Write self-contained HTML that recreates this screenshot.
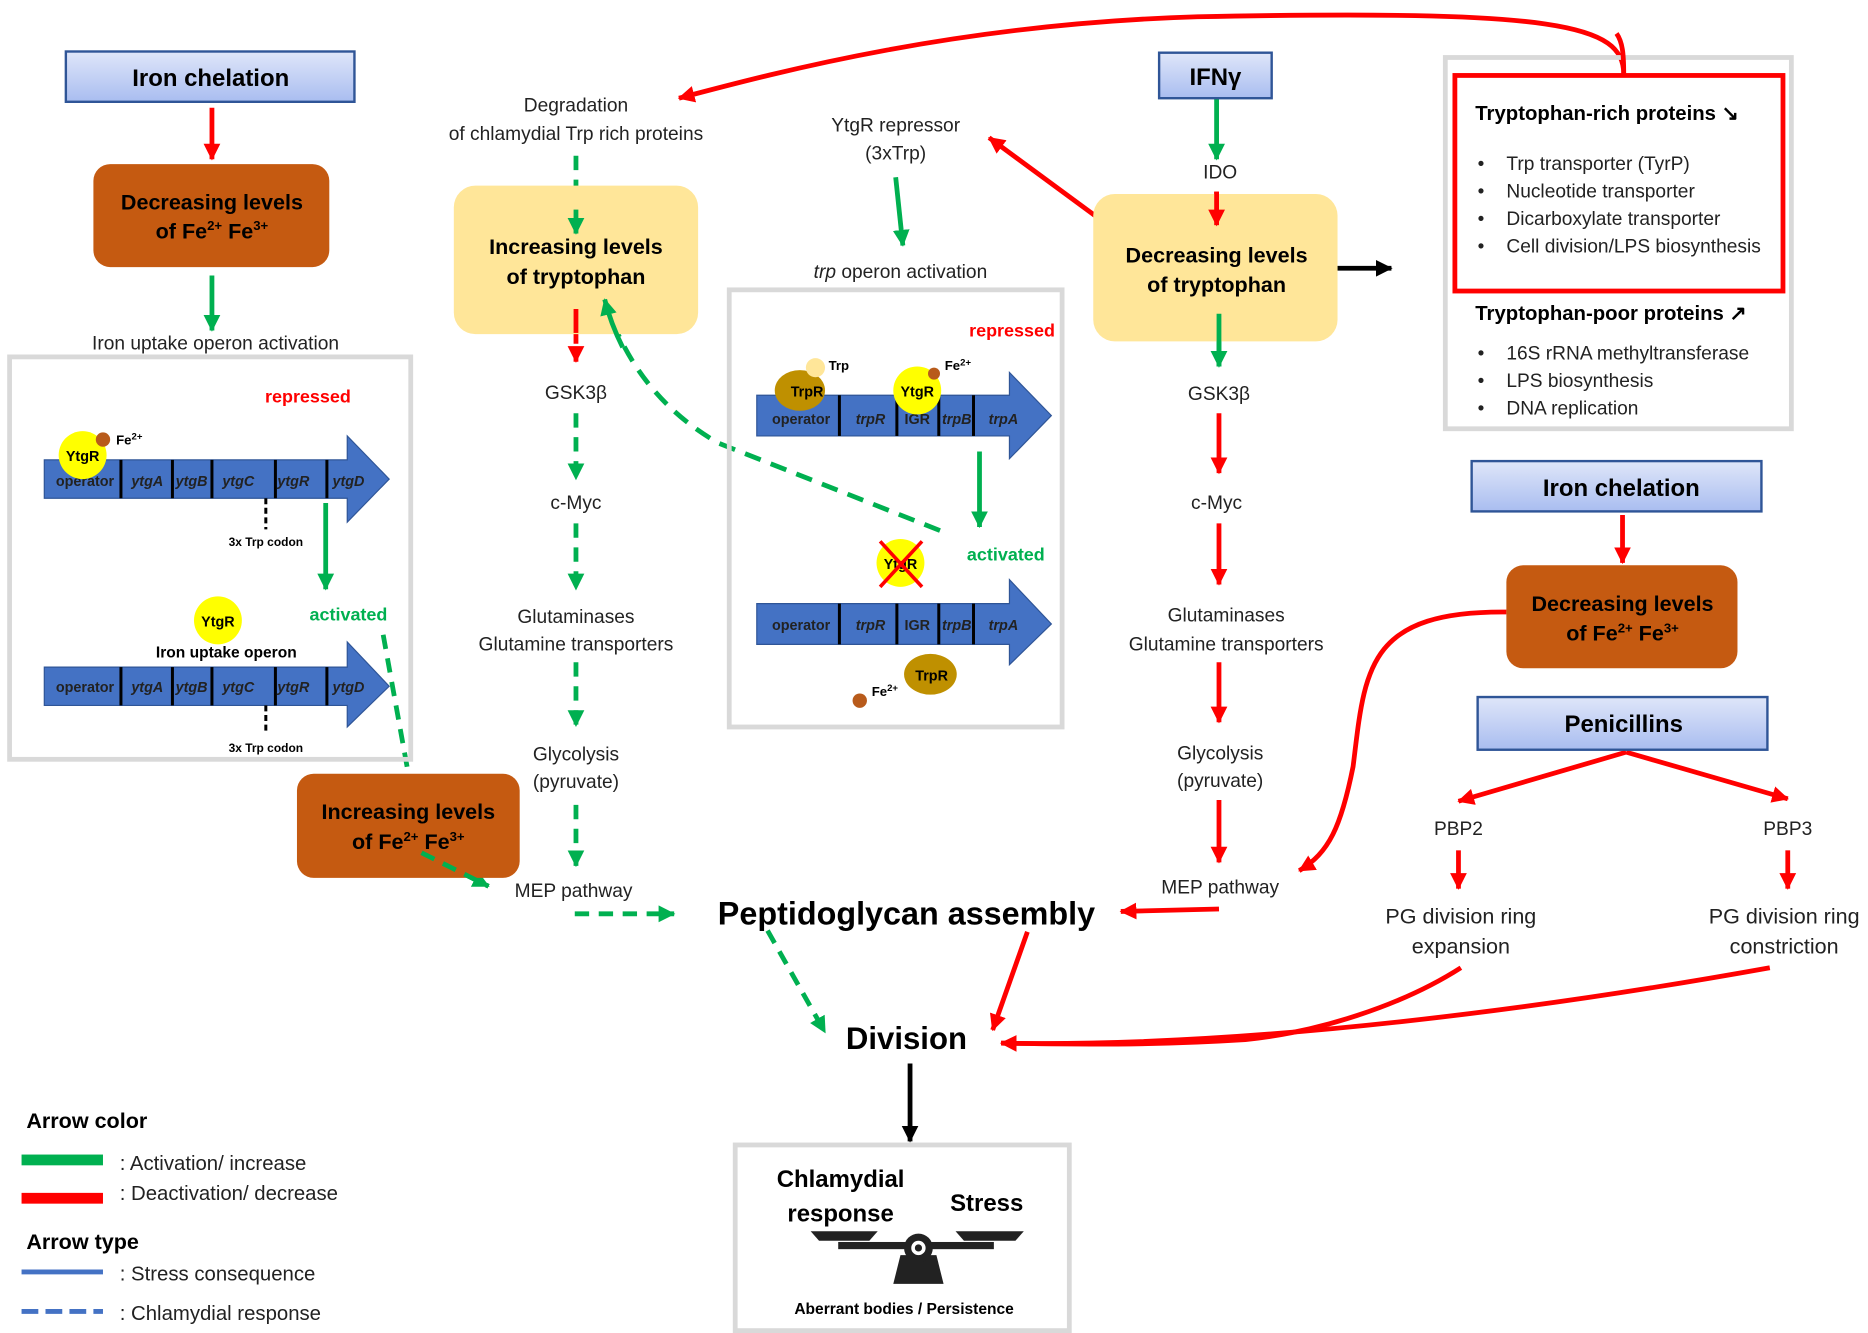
<!DOCTYPE html>
<html><head><meta charset="utf-8"><style>
html,body{margin:0;padding:0;background:#fff}
svg{display:block}
text{font-family:"Liberation Sans",sans-serif;fill:#222}
.b{font-weight:bold;fill:#000}
</style></head><body>
<svg width="1868" height="1333" viewBox="0 0 1560 1113" preserveAspectRatio="none" xmlns="http://www.w3.org/2000/svg">
<defs>
<linearGradient id="bl" x1="0" y1="0" x2="0" y2="1"><stop offset="0" stop-color="#dfe6f9"/><stop offset="1" stop-color="#a9bdf0"/></linearGradient>
<marker id="g" markerUnits="userSpaceOnUse" markerWidth="16" markerHeight="16" refX="13" refY="8" orient="auto"><path d="M0,1 L14,8 L0,15 z" fill="#00B050"/></marker>
<marker id="r" markerUnits="userSpaceOnUse" markerWidth="16" markerHeight="16" refX="13" refY="8" orient="auto"><path d="M0,1 L14,8 L0,15 z" fill="#FF0000"/></marker>
<marker id="k" markerUnits="userSpaceOnUse" markerWidth="16" markerHeight="16" refX="13" refY="8" orient="auto"><path d="M0,1 L14,8 L0,15 z" fill="#000"/></marker>
</defs>
<g stroke-width="4" fill="none">
<!-- left -->
<line x1="177" y1="90" x2="177" y2="133" stroke="#FF0000" marker-end="url(#r)"/>
<line x1="177" y1="230" x2="177" y2="276" stroke="#00B050" marker-end="url(#g)"/>
<line x1="272" y1="420" x2="272" y2="492" stroke="#00B050" marker-end="url(#g)"/>
<line x1="320" y1="530" x2="345" y2="668" stroke="#00B050" stroke-dasharray="12,8" marker-end="url(#g)"/>
<!-- center -->
<line x1="481" y1="130" x2="481" y2="195" stroke="#00B050" stroke-dasharray="12,8" marker-end="url(#g)"/>
<line x1="481" y1="255" x2="481" y2="302" stroke="#FF0000" stroke-dasharray="12,8" marker-end="url(#r)"/>
<line x1="481" y1="345" x2="481" y2="400" stroke="#00B050" stroke-dasharray="12,8" marker-end="url(#g)"/>
<line x1="481" y1="437" x2="481" y2="492" stroke="#00B050" stroke-dasharray="12,8" marker-end="url(#g)"/>
<line x1="481" y1="553" x2="481" y2="606" stroke="#00B050" stroke-dasharray="12,8" marker-end="url(#g)"/>
<line x1="481" y1="672" x2="481" y2="723" stroke="#00B050" stroke-dasharray="12,8" marker-end="url(#g)"/>
<line x1="480" y1="763" x2="563" y2="763" stroke="#00B050" stroke-dasharray="12,8" marker-end="url(#g)"/>
<path d="M785,443 L600,370 Q530,330 505,250" stroke="#00B050" stroke-dasharray="14,9" marker-end="url(#g)"/>
<line x1="748" y1="148" x2="754" y2="205" stroke="#00B050" marker-end="url(#g)"/>
<line x1="818" y1="377" x2="818" y2="440" stroke="#00B050" marker-end="url(#g)"/>
<!-- right middle -->
<line x1="1016" y1="82" x2="1016" y2="133" stroke="#00B050" marker-end="url(#g)"/>
<line x1="1016" y1="160" x2="1016" y2="188" stroke="#FF0000" marker-end="url(#r)"/>
<line x1="928" y1="190" x2="826" y2="115" stroke="#FF0000" marker-end="url(#r)"/>
<line x1="1117" y1="224" x2="1162" y2="224" stroke="#000" marker-end="url(#k)"/>
<line x1="1018" y1="262" x2="1018" y2="306" stroke="#00B050" marker-end="url(#g)"/>
<line x1="1018" y1="345" x2="1018" y2="395" stroke="#FF0000" marker-end="url(#r)"/>
<line x1="1018" y1="437" x2="1018" y2="488" stroke="#FF0000" marker-end="url(#r)"/>
<line x1="1018" y1="553" x2="1018" y2="603" stroke="#FF0000" marker-end="url(#r)"/>
<line x1="1018" y1="668" x2="1018" y2="720" stroke="#FF0000" marker-end="url(#r)"/>
<line x1="1018" y1="759" x2="936" y2="761" stroke="#FF0000" marker-end="url(#r)"/>
<line x1="641" y1="777" x2="689" y2="862" stroke="#00B050" stroke-dasharray="12,8" marker-end="url(#g)"/>
<line x1="352" y1="712" x2="408" y2="740" stroke="#00B050" stroke-dasharray="12,8" marker-end="url(#g)"/>
<line x1="858" y1="778" x2="829" y2="860" stroke="#FF0000" marker-end="url(#r)"/>
<line x1="760" y1="888" x2="760" y2="953" stroke="#000" marker-end="url(#k)"/>
<path d="M1356,62 C1356,20 1300,8 1000,14 C800,20 650,60 567,82" stroke="#FF0000" marker-end="url(#r)"/>
<!-- right -->
<line x1="1355" y1="430" x2="1355" y2="470" stroke="#FF0000" marker-end="url(#r)"/>
<path d="M1258,511 C1140,510 1140,560 1130,640 C1120,690 1110,712 1085,727" stroke="#FF0000" marker-end="url(#r)"/>
<line x1="1358" y1="628" x2="1218" y2="669" stroke="#FF0000" marker-end="url(#r)"/>
<line x1="1358" y1="628" x2="1493" y2="667" stroke="#FF0000" marker-end="url(#r)"/>
<line x1="1218" y1="710" x2="1218" y2="742" stroke="#FF0000" marker-end="url(#r)"/>
<line x1="1493" y1="710" x2="1493" y2="742" stroke="#FF0000" marker-end="url(#r)"/>
<path d="M1220,808 C1170,840 1100,862 1040,868 C960,873 900,872 836,871" stroke="#FF0000" marker-end="url(#r)"/>
<path d="M1478,808 C1300,840 1050,875 836,871" stroke="#FF0000"/>
</g>

<!-- boxes -->
<rect x="55" y="43" width="241" height="42" fill="url(#bl)" stroke="#2F5597" stroke-width="2"/>
<text x="176" y="72" text-anchor="middle" class="b" font-size="20">Iron chelation</text>
<rect x="78" y="137" width="197" height="86" rx="14" fill="#C55A11"/>
<text x="177" y="175" text-anchor="middle" class="b" font-size="18">Decreasing levels</text>
<text x="177" y="199" text-anchor="middle" class="b" font-size="18">of  Fe<tspan font-size="11" dy="-7">2+</tspan><tspan dy="7"> Fe</tspan><tspan font-size="11" dy="-7">3+</tspan></text>
<text x="180" y="292" text-anchor="middle" font-size="16">Iron uptake operon activation</text>
<rect x="8" y="298" width="335" height="336" fill="none" stroke="#d9d9d9" stroke-width="4"/>
<text x="293" y="336" text-anchor="end" class="b" font-size="15" style="fill:#FF0000">repressed</text>
<!-- operon 1 -->
<path d="M37,384 H290 V364 L325,400 L290,436 V416 H37 Z" fill="#4472C4" stroke="#2F5597"/>
<g stroke="#000" stroke-width="2.5"><line x1="101" y1="384" x2="101" y2="416"/><line x1="144" y1="384" x2="144" y2="416"/><line x1="177" y1="384" x2="177" y2="416"/><line x1="230" y1="384" x2="230" y2="416"/><line x1="273" y1="384" x2="273" y2="416"/>
<line x1="222" y1="416" x2="222" y2="442" stroke-dasharray="5,3"/></g>
<g font-size="12" class="b"><text x="71" y="406" text-anchor="middle">operator</text><text x="123" y="406" text-anchor="middle" font-style="italic">ytgA</text><text x="160" y="406" text-anchor="middle" font-style="italic">ytgB</text><text x="199" y="406" text-anchor="middle" font-style="italic">ytgC</text><text x="245" y="406" text-anchor="middle" font-style="italic">ytgR</text><text x="291" y="406" text-anchor="middle" font-style="italic">ytgD</text></g>
<circle cx="69" cy="380" r="20" fill="#FFFF00"/><text x="69" y="385" text-anchor="middle" class="b" font-size="12">YtgR</text>
<circle cx="86" cy="367" r="6" fill="#B85B1B"/><text x="97" y="371" class="b" font-size="11">Fe<tspan font-size="8" dy="-4">2+</tspan></text>
<text x="222" y="456" text-anchor="middle" class="b" font-size="10">3x Trp codon</text>
<text x="291" y="518" text-anchor="middle" class="b" font-size="15" style="fill:#00B050">activated</text>
<circle cx="182" cy="518" r="20" fill="#FFFF00"/><text x="182" y="523" text-anchor="middle" class="b" font-size="12">YtgR</text>
<text x="189" y="549" text-anchor="middle" class="b" font-size="13">Iron uptake operon</text>
<path d="M37,557 H290 V536 L325,573 L290,607 V589 H37 Z" fill="#4472C4" stroke="#2F5597"/>
<g stroke="#000" stroke-width="2.5"><line x1="101" y1="557" x2="101" y2="589"/><line x1="144" y1="557" x2="144" y2="589"/><line x1="177" y1="557" x2="177" y2="589"/><line x1="230" y1="557" x2="230" y2="589"/><line x1="273" y1="557" x2="273" y2="589"/>
<line x1="222" y1="589" x2="222" y2="612" stroke-dasharray="5,3"/></g>
<g font-size="12" class="b"><text x="71" y="578" text-anchor="middle">operator</text><text x="123" y="578" text-anchor="middle" font-style="italic">ytgA</text><text x="160" y="578" text-anchor="middle" font-style="italic">ytgB</text><text x="199" y="578" text-anchor="middle" font-style="italic">ytgC</text><text x="245" y="578" text-anchor="middle" font-style="italic">ytgR</text><text x="291" y="578" text-anchor="middle" font-style="italic">ytgD</text></g>
<text x="222" y="628" text-anchor="middle" class="b" font-size="10">3x Trp codon</text>
<rect x="248" y="646" width="186" height="87" rx="14" fill="#C55A11"/>
<text x="341" y="684" text-anchor="middle" class="b" font-size="18">Increasing levels</text>
<text x="341" y="709" text-anchor="middle" class="b" font-size="18">of  Fe<tspan font-size="11" dy="-7">2+</tspan><tspan dy="7"> Fe</tspan><tspan font-size="11" dy="-7">3+</tspan></text>
<line x1="352" y1="712" x2="408" y2="740" stroke="#00B050" stroke-width="4" stroke-dasharray="12,8"/>

<!-- center -->
<text x="481" y="93" text-anchor="middle" font-size="16">Degradation</text>
<text x="481" y="117" text-anchor="middle" font-size="16">of chlamydial Trp rich proteins</text>
<rect x="379" y="155" width="204" height="124" rx="18" fill="#FFE699"/>
<text x="481" y="212" text-anchor="middle" class="b" font-size="18">Increasing levels</text>
<text x="481" y="237" text-anchor="middle" class="b" font-size="18">of tryptophan</text>
<line x1="481" y1="175" x2="481" y2="195" stroke="#00B050" stroke-width="4" marker-end="url(#g)"/>
<line x1="481" y1="258" x2="481" y2="278" stroke="#FF0000" stroke-width="4"/>
<path d="M520,290 Q510,270 505,250" stroke="#00B050" stroke-width="4" fill="none" marker-end="url(#g)"/>
<text x="481" y="333" text-anchor="middle" font-size="16">GSK3β</text>
<text x="481" y="425" text-anchor="middle" font-size="16">c-Myc</text>
<text x="481" y="520" text-anchor="middle" font-size="16">Glutaminases</text>
<text x="481" y="543" text-anchor="middle" font-size="16">Glutamine transporters</text>
<text x="481" y="635" text-anchor="middle" font-size="16">Glycolysis</text>
<text x="481" y="658" text-anchor="middle" font-size="16">(pyruvate)</text>
<text x="479" y="749" text-anchor="middle" font-size="16">MEP pathway</text>

<text x="748" y="110" text-anchor="middle" font-size="16">YtgR repressor</text>
<text x="748" y="133" text-anchor="middle" font-size="16">(3xTrp)</text>
<text x="752" y="232" text-anchor="middle" font-size="16"><tspan font-style="italic">trp</tspan> operon activation</text>
<rect x="609" y="242" width="278" height="365" fill="none" stroke="#d9d9d9" stroke-width="4"/>
<text x="881" y="281" text-anchor="end" class="b" font-size="15" style="fill:#FF0000">repressed</text>
<path d="M632,330 H843 V311 L878,347 L843,383 V364 H632 Z" fill="#4472C4" stroke="#2F5597"/>
<g stroke="#000" stroke-width="2.5"><line x1="701" y1="330" x2="701" y2="364"/><line x1="749" y1="330" x2="749" y2="364"/><line x1="784" y1="330" x2="784" y2="364"/><line x1="813" y1="330" x2="813" y2="364"/></g>
<g font-size="12" class="b"><text x="669" y="354" text-anchor="middle">operator</text><text x="727" y="354" text-anchor="middle" font-style="italic">trpR</text><text x="766" y="354" text-anchor="middle">IGR</text><text x="799" y="354" text-anchor="middle" font-style="italic">trpB</text><text x="838" y="354" text-anchor="middle" font-style="italic">trpA</text></g>
<ellipse cx="668" cy="326" rx="21" ry="17" fill="#BF9000"/><text x="674" y="331" text-anchor="middle" class="b" font-size="12">TrpR</text>
<circle cx="681" cy="307" r="8" fill="#FFE699"/><text x="692" y="309" class="b" font-size="11">Trp</text>
<circle cx="766" cy="326" r="20" fill="#FFFF00"/><text x="766" y="331" text-anchor="middle" class="b" font-size="12">YtgR</text>
<circle cx="780" cy="312" r="5" fill="#B85B1B"/><text x="789" y="309" class="b" font-size="11">Fe<tspan font-size="8" dy="-4">2+</tspan></text>
<text x="840" y="468" text-anchor="middle" class="b" font-size="15" style="fill:#00B050">activated</text>
<circle cx="752" cy="470" r="20" fill="#FFFF00"/><text x="752" y="475" text-anchor="middle" class="b" font-size="12">YtgR</text>
<g stroke="#FF0000" stroke-width="3"><line x1="735" y1="452" x2="770" y2="490"/><line x1="770" y1="452" x2="735" y2="490"/></g>
<path d="M632,504 H843 V484 L878,521 L843,555 V538 H632 Z" fill="#4472C4" stroke="#2F5597"/>
<g stroke="#000" stroke-width="2.5"><line x1="701" y1="504" x2="701" y2="538"/><line x1="749" y1="504" x2="749" y2="538"/><line x1="784" y1="504" x2="784" y2="538"/><line x1="813" y1="504" x2="813" y2="538"/></g>
<g font-size="12" class="b"><text x="669" y="526" text-anchor="middle">operator</text><text x="727" y="526" text-anchor="middle" font-style="italic">trpR</text><text x="766" y="526" text-anchor="middle">IGR</text><text x="799" y="526" text-anchor="middle" font-style="italic">trpB</text><text x="838" y="526" text-anchor="middle" font-style="italic">trpA</text></g>
<ellipse cx="777" cy="563" rx="22" ry="17" fill="#BF9000"/><text x="778" y="568" text-anchor="middle" class="b" font-size="12">TrpR</text>
<circle cx="718" cy="585" r="6" fill="#B85B1B"/><text x="728" y="581" class="b" font-size="11">Fe<tspan font-size="8" dy="-4">2+</tspan></text>

<!-- IFN column -->
<rect x="968" y="44" width="94" height="38" fill="url(#bl)" stroke="#2F5597" stroke-width="2"/>
<text x="1015" y="71" text-anchor="middle" class="b" font-size="20">IFNγ</text>
<text x="1019" y="149" text-anchor="middle" font-size="16">IDO</text>
<rect x="913" y="162" width="204" height="123" rx="18" fill="#FFE699"/>
<text x="1016" y="219" text-anchor="middle" class="b" font-size="18">Decreasing levels</text>
<text x="1016" y="244" text-anchor="middle" class="b" font-size="18">of tryptophan</text>
<line x1="1018" y1="262" x2="1018" y2="306" stroke="#00B050" stroke-width="4" marker-end="url(#g)"/>
<line x1="1016" y1="160" x2="1016" y2="188" stroke="#FF0000" stroke-width="4" marker-end="url(#r)"/>
<text x="1018" y="334" text-anchor="middle" font-size="16">GSK3β</text>
<text x="1016" y="425" text-anchor="middle" font-size="16">c-Myc</text>
<text x="1024" y="519" text-anchor="middle" font-size="16">Glutaminases</text>
<text x="1024" y="543" text-anchor="middle" font-size="16">Glutamine transporters</text>
<text x="1019" y="634" text-anchor="middle" font-size="16">Glycolysis</text>
<text x="1019" y="657" text-anchor="middle" font-size="16">(pyruvate)</text>
<text x="1019" y="746" text-anchor="middle" font-size="16">MEP pathway</text>

<text x="757" y="772" text-anchor="middle" class="b" font-size="27">Peptidoglycan assembly</text>
<text x="757" y="876" text-anchor="middle" class="b" font-size="26">Division</text>
<rect x="614" y="956" width="279" height="155" fill="none" stroke="#d9d9d9" stroke-width="4"/>
<text x="702" y="991" text-anchor="middle" class="b" font-size="20">Chlamydial</text>
<text x="702" y="1020" text-anchor="middle" class="b" font-size="20">response</text>
<text x="824" y="1011" text-anchor="middle" class="b" font-size="20">Stress</text>
<g fill="#222"><rect x="700" y="1037" width="130" height="6"/><path d="M677,1028 H733 L726,1036 H684 Z"/><path d="M798,1028 H855 L848,1036 H805 Z"/><path d="M752,1048 L782,1048 L788,1072 L746,1072 Z"/><circle cx="767" cy="1042" r="12"/></g>
<circle cx="767" cy="1042" r="6" fill="#fff"/><circle cx="767" cy="1042" r="3" fill="#222"/>
<text x="755" y="1097" text-anchor="middle" class="b" font-size="13">Aberrant bodies / Persistence</text>

<!-- right -->
<rect x="1207" y="48" width="289" height="310" fill="none" stroke="#d9d9d9" stroke-width="4"/>
<rect x="1215" y="63" width="274" height="180" fill="#fff" stroke="#FF0000" stroke-width="4"/>
<text x="1232" y="100" class="b" font-size="17">Tryptophan-rich proteins ↘</text>
<g font-size="16"><text x="1234" y="142">•</text><text x="1258" y="142">Trp transporter (TyrP)</text>
<text x="1234" y="165">•</text><text x="1258" y="165">Nucleotide transporter</text>
<text x="1234" y="188">•</text><text x="1258" y="188">Dicarboxylate transporter</text>
<text x="1234" y="211">•</text><text x="1258" y="211">Cell division/LPS biosynthesis</text></g>
<text x="1232" y="267" class="b" font-size="17">Tryptophan-poor proteins ↗</text>
<g font-size="16"><text x="1234" y="300">•</text><text x="1258" y="300">16S rRNA methyltransferase</text>
<text x="1234" y="323">•</text><text x="1258" y="323">LPS biosynthesis</text>
<text x="1234" y="346">•</text><text x="1258" y="346">DNA replication</text></g>
<path d="M1356,62 C1356,45 1355,35 1350,28" stroke="#FF0000" stroke-width="4" fill="none"/>

<rect x="1229" y="385" width="242" height="42" fill="url(#bl)" stroke="#2F5597" stroke-width="2"/>
<text x="1354" y="414" text-anchor="middle" class="b" font-size="20">Iron chelation</text>
<rect x="1258" y="472" width="193" height="86" rx="14" fill="#C55A11"/>
<text x="1355" y="510" text-anchor="middle" class="b" font-size="18">Decreasing levels</text>
<text x="1355" y="535" text-anchor="middle" class="b" font-size="18">of  Fe<tspan font-size="11" dy="-7">2+</tspan><tspan dy="7"> Fe</tspan><tspan font-size="11" dy="-7">3+</tspan></text>
<rect x="1234" y="582" width="242" height="44" fill="url(#bl)" stroke="#2F5597" stroke-width="2"/>
<text x="1356" y="611" text-anchor="middle" class="b" font-size="20">Penicillins</text>
<text x="1218" y="697" text-anchor="middle" font-size="16">PBP2</text>
<text x="1493" y="697" text-anchor="middle" font-size="16">PBP3</text>
<text x="1220" y="771" text-anchor="middle" font-size="18">PG division ring</text>
<text x="1220" y="796" text-anchor="middle" font-size="18">expansion</text>
<text x="1490" y="771" text-anchor="middle" font-size="18">PG division ring</text>
<text x="1490" y="796" text-anchor="middle" font-size="18">constriction</text>

<!-- legend -->
<text x="22" y="942" class="b" font-size="18">Arrow color</text>
<rect x="18" y="964" width="68" height="9" fill="#00B050"/>
<text x="100" y="977" font-size="17">: Activation/ increase</text>
<rect x="18" y="996" width="68" height="9" fill="#FF0000"/>
<text x="100" y="1002" font-size="17">: Deactivation/ decrease</text>
<text x="22" y="1043" class="b" font-size="18">Arrow type</text>
<line x1="18" y1="1062" x2="86" y2="1062" stroke="#4472C4" stroke-width="4"/>
<text x="100" y="1069" font-size="17">: Stress consequence</text>
<line x1="18" y1="1095" x2="86" y2="1095" stroke="#4472C4" stroke-width="4" stroke-dasharray="14,6"/>
<text x="100" y="1102" font-size="17">: Chlamydial response</text>
</svg>
</body></html>
